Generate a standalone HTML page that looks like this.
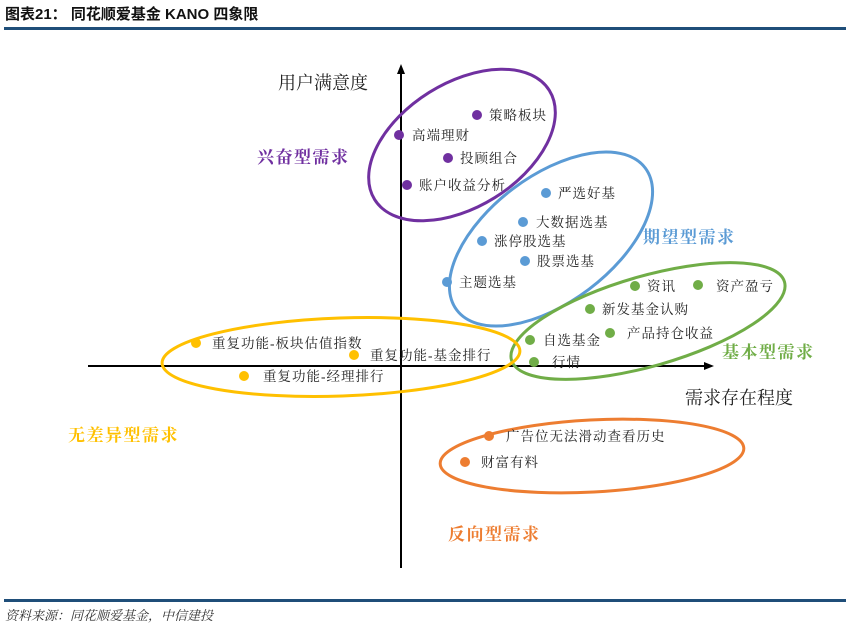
<!DOCTYPE html>
<html><head><meta charset="utf-8"><style>
body{margin:0;background:#fff;}
svg{display:block;}
text{font-family:"Liberation Serif","Noto Serif CJK SC",serif;}
.l{font-size:13.5px;fill:#222;letter-spacing:1px;}
.c{font-size:17px;font-weight:bold;letter-spacing:1.5px;}
</style></head><body>
<svg width="850" height="627" viewBox="0 0 850 627" xmlns="http://www.w3.org/2000/svg">
<text x="5" y="19" style="font-family:'Liberation Sans','Noto Sans CJK SC',sans-serif;font-size:15px;font-weight:bold" fill="#111">图表21：  同花顺爱基金 KANO 四象限</text>
<rect x="4" y="27" width="842" height="3" fill="#1f4e79"/>
<rect x="4" y="599" width="842" height="3" fill="#1f4e79"/>
<text x="5" y="620" style="font-family:'Liberation Serif','Noto Serif CJK SC',serif;font-size:13px;font-style:italic" fill="#333">资料来源：同花顺爱基金，中信建投</text>

<!-- axes -->
<line x1="401" y1="72" x2="401" y2="568" stroke="#000" stroke-width="2"/>
<polygon points="401,64 397,74 405,74" fill="#000"/>
<line x1="88" y1="366" x2="706" y2="366" stroke="#000" stroke-width="2"/>
<polygon points="714,366 704,362 704,370" fill="#000"/>
<text x="278" y="89" style="font-size:18px" fill="#222">用户满意度</text>
<text x="685" y="404" style="font-size:18px" fill="#222">需求存在程度</text>

<!-- ellipses -->
<ellipse cx="462" cy="145" rx="103" ry="62" transform="rotate(-32 462 145)" fill="none" stroke="#7030a0" stroke-width="3"/>
<ellipse cx="551" cy="239" rx="118" ry="63" transform="rotate(-37 551 239)" fill="none" stroke="#5b9bd5" stroke-width="3"/>
<ellipse cx="648" cy="321" rx="142" ry="45" transform="rotate(-16 648 321)" fill="none" stroke="#70ad47" stroke-width="3"/>
<ellipse cx="341" cy="357" rx="179" ry="39" transform="rotate(-2 341 357)" fill="none" stroke="#ffc000" stroke-width="3"/>
<ellipse cx="592" cy="456" rx="152" ry="36" transform="rotate(-3 592 456)" fill="none" stroke="#ed7d31" stroke-width="3"/>

<!-- category labels -->
<text class="c" x="257" y="163" fill="#7030a0">兴奋型需求</text>
<text class="c" x="643" y="243" fill="#5b9bd5">期望型需求</text>
<text class="c" x="722" y="358" fill="#70ad47">基本型需求</text>
<text class="c" x="68" y="441" fill="#ffc000">无差异型需求</text>
<text class="c" x="448" y="540" fill="#ed7d31">反向型需求</text>

<!-- purple -->
<g fill="#7030a0">
<circle cx="477" cy="115" r="5"/><circle cx="399" cy="135" r="5"/><circle cx="448" cy="158" r="5"/><circle cx="407" cy="185" r="5"/>
</g>
<text class="l" x="489" y="120">策略板块</text>
<text class="l" x="412" y="140">高端理财</text>
<text class="l" x="460" y="163">投顾组合</text>
<text class="l" x="419" y="190">账户收益分析</text>
<!-- blue -->
<g fill="#5b9bd5">
<circle cx="546" cy="193" r="5"/><circle cx="523" cy="222" r="5"/><circle cx="482" cy="241" r="5"/><circle cx="525" cy="261" r="5"/><circle cx="447" cy="282" r="5"/>
</g>
<text class="l" x="558" y="198">严选好基</text>
<text class="l" x="536" y="227">大数据选基</text>
<text class="l" x="494" y="246">涨停股选基</text>
<text class="l" x="537" y="266">股票选基</text>
<text class="l" x="459" y="287">主题选基</text>
<!-- green -->
<g fill="#70ad47">
<circle cx="635" cy="286" r="5"/><circle cx="698" cy="285" r="5"/><circle cx="590" cy="309" r="5"/><circle cx="610" cy="333" r="5"/><circle cx="530" cy="340" r="5"/><circle cx="534" cy="362" r="5"/>
</g>
<text class="l" x="647" y="291">资讯</text>
<text class="l" x="716" y="291">资产盈亏</text>
<text class="l" x="602" y="314">新发基金认购</text>
<text class="l" x="627" y="338">产品持仓收益</text>
<text class="l" x="543" y="345">自选基金</text>
<text class="l" x="552" y="367">行情</text>
<!-- yellow -->
<g fill="#ffc000">
<circle cx="196" cy="343" r="5"/><circle cx="354" cy="355" r="5"/><circle cx="244" cy="376" r="5"/>
</g>
<text class="l" x="212" y="348">重复功能-板块估值指数</text>
<text class="l" x="370" y="360">重复功能-基金排行</text>
<text class="l" x="263" y="381">重复功能-经理排行</text>
<!-- orange -->
<g fill="#ed7d31">
<circle cx="489" cy="436" r="5"/><circle cx="465" cy="462" r="5"/>
</g>
<text class="l" x="506" y="441">广告位无法滑动查看历史</text>
<text class="l" x="481" y="467">财富有料</text>
</svg>
</body></html>
